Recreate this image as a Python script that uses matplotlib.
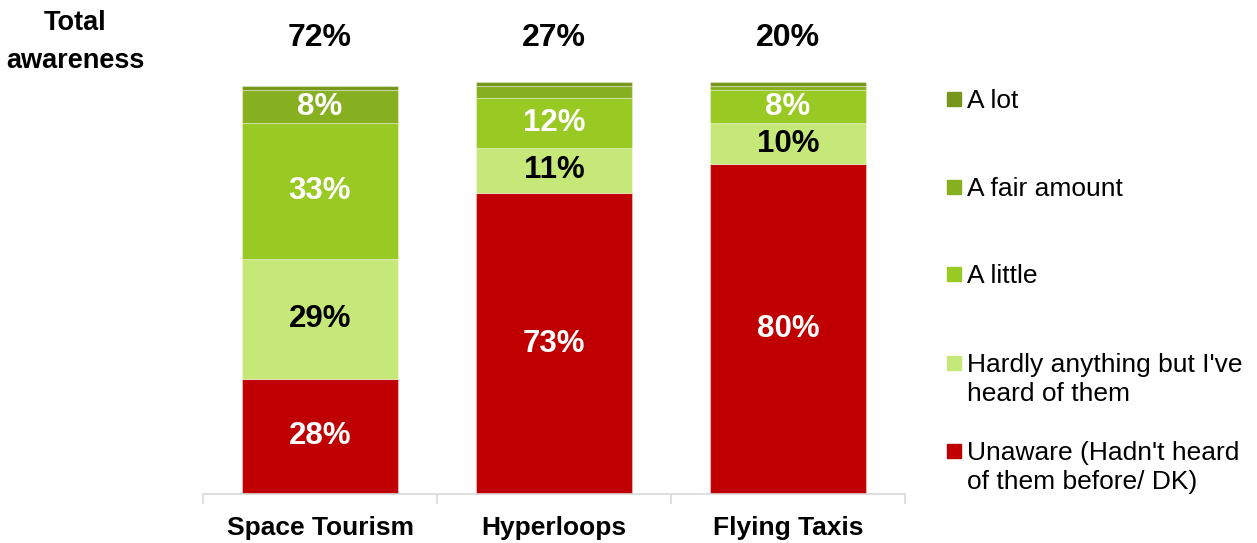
import numpy as np
import matplotlib
matplotlib.use("Agg")
import matplotlib.pyplot as plt
from matplotlib.patches import Rectangle

plt.rcParams['font.family'] = ['Liberation Sans', 'DejaVu Sans']

# survey data (percent of respondents)
categories = ['Space Tourism', 'Hyperloops', 'Flying Taxis']
levels = ['Unaware (Hadn\'t heard\nof them before/ DK)',
          'Hardly anything but I\'ve\nheard of them',
          'A little', 'A fair amount', 'A lot']
unaware = [28, 73, 80]
hardly = [29, 11, 10]
a_little = [33, 12, 8]
fair_amount = [8, 3, 1]
a_lot = [1, 1, 1]
total_awareness = ['72%', '27%', '20%']

series = [unaware, hardly, a_little, fair_amount, a_lot]
colors = ['#c00000', '#c5e878', '#99c923', '#87b020', '#76971c']
text_colors = ['white', 'black', 'white', 'white', 'white']

fig = plt.figure(figsize=(12.57, 5.43), dpi=100)
ax = fig.add_axes([0.1615, 0.0902, 0.5585, 0.759])

x = np.arange(len(categories))
bottom = np.zeros(len(categories))
for vals, col, tcol in zip(series, colors, text_colors):
    vals = np.array(vals, dtype=float)
    ax.bar(x, vals, bottom=bottom, width=0.667, color=col,
           edgecolor=(1, 1, 1, 0.35), linewidth=0.8)
    for xi, b, v in zip(x, bottom, vals):
        if v >= 5:
            ax.text(xi, b + v / 2, f'{v:.0f}%', ha='center', va='center',
                    color=tcol, fontsize=22.5, fontweight='bold')
    bottom += vals

ax.set_xlim(-0.5, 2.5)
ax.set_ylim(0, 100)
for s in ['top', 'right', 'left']:
    ax.spines[s].set_visible(False)
ax.spines['bottom'].set_color('#d9d9d9')
ax.spines['bottom'].set_linewidth(1.2)
ax.set_yticks([])
ax.set_xticks(x)
ax.set_xticklabels(categories, fontsize=19, fontweight='bold')
ax.tick_params(axis='x', which='major', length=0, pad=16)
ax.set_xticks([-0.5, 0.5, 1.5, 2.5], minor=True)
ax.tick_params(axis='x', which='minor', length=7, width=1.2,
               color='#d9d9d9', direction='out')

# total awareness row above the bars
for xi, t in zip(x, total_awareness):
    ax.text(xi, 1.106, t, transform=ax.get_xaxis_transform(),
            ha='center', va='center', fontsize=23, fontweight='bold')
fig.text(0.06, (543 - 42) / 543, 'Total\nawareness', ha='center',
         va='center', fontsize=19.5, fontweight='bold', linespacing=1.6)

# legend, top entry first
W, H = 1257, 543
baselines = [460, 372, 283, 196, 108]
for lab, col, yb in zip(levels, colors, baselines):
    fig.patches.append(Rectangle((947 / W, (H - yb + 2) / H), 14 / W, 14 / H,
                                 transform=fig.transFigure, color=col))
    fig.text(967 / W, (H - yb + 19) / H, lab, ha='left', va='top',
             fontsize=19, linespacing=1.25)

fig.savefig('out.png', dpi=100)
